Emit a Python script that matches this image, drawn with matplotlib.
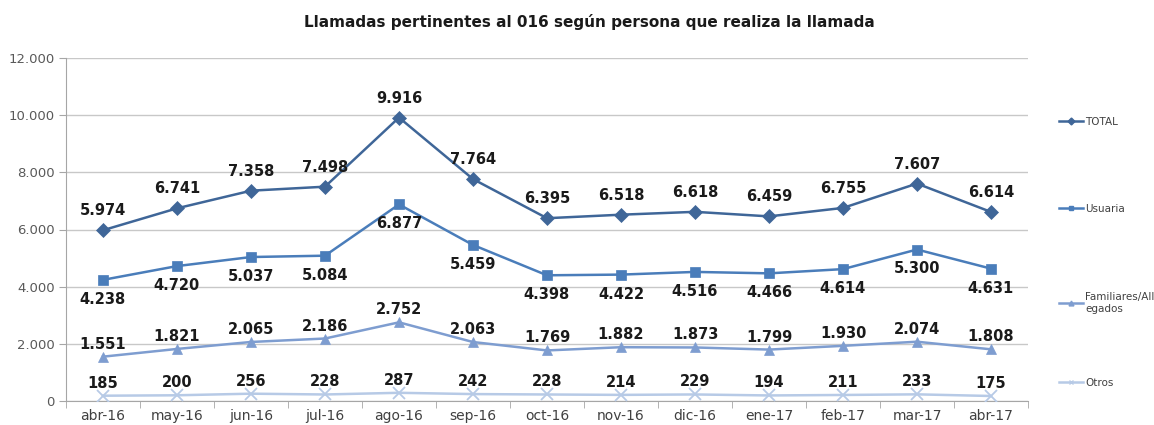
import numpy as np
import matplotlib
matplotlib.use("Agg")
import matplotlib.pyplot as plt
from matplotlib.ticker import FuncFormatter, FixedLocator

# Datos
meses = ["abr-16", "may-16", "jun-16", "jul-16", "ago-16", "sep-16", "oct-16",
         "nov-16", "dic-16", "ene-17", "feb-17", "mar-17", "abr-17"]
total = [5974, 6741, 7358, 7498, 9916, 7764, 6395, 6518, 6618, 6459, 6755, 7607, 6614]
usuaria = [4238, 4720, 5037, 5084, 6877, 5459, 4398, 4422, 4516, 4466, 4614, 5300, 4631]
familiares = [1551, 1821, 2065, 2186, 2752, 2063, 1769, 1882, 1873, 1799, 1930, 2074, 1808]
otros = [185, 200, 256, 228, 287, 242, 228, 214, 229, 194, 211, 233, 175]

def miles(v, pos=None):
    return f"{int(v):,}".replace(",", ".")

fig = plt.figure(figsize=(11.54, 4.25), dpi=100)
ax = fig.add_axes([66/1154, 1-401/425, (1028-66)/1154, (401-58)/425])

x = np.arange(len(meses))

# (nombre, datos, color, marcador, tamano, desplazamiento etiqueta en pt)
series = [
    ("TOTAL", total, "#3F6698", "D", 7, 14),
    ("Usuaria", usuaria, "#4A7DBA", "s", 7.5, -14),
    ("Familiares/All\negados", familiares, "#7E9DD0", "^", 7.5, 9),
    ("Otros", otros, "#B7CAE6", "x", 8, 9),
]

handles = []
for nombre, datos, color, mk, ms, dy in series:
    h, = ax.plot(x, datos, color=color, lw=1.8, marker=mk, markersize=ms,
                 markeredgewidth=1.3 if mk == "x" else 0.5, zorder=3)
    handles.append(h)
    for xi, v in zip(x, datos):
        ax.annotate(miles(v), (xi, v), xytext=(0, dy), textcoords="offset points",
                    ha="center", va="center", fontsize=10.5, fontweight="bold",
                    color="#1a1a1a")

ax.set_xlim(-0.5, len(meses) - 0.5)
ax.set_ylim(0, 12000)
ax.set_yticks(np.arange(0, 12001, 2000))
ax.yaxis.set_major_formatter(FuncFormatter(miles))
ax.set_xticks(x)
ax.set_xticklabels(meses)
ax.xaxis.set_minor_locator(FixedLocator(np.arange(-0.5, len(meses), 1)))
ax.tick_params(axis="x", which="major", length=0, pad=6, labelsize=10, colors="#404040")
ax.tick_params(axis="x", which="minor", length=5, color="#A6A6A6")
ax.tick_params(axis="y", length=5, color="#A6A6A6", labelsize=9.5, labelcolor="#595959", pad=3)

ax.grid(axis="y", color="#C8C8C8", lw=1)
ax.set_axisbelow(True)
for s in ["top", "right"]:
    ax.spines[s].set_visible(False)
for s in ["left", "bottom"]:
    ax.spines[s].set_color("#A6A6A6")

fig.text(0.511, 1-22/425, "Llamadas pertinentes al 016 según persona que realiza la llamada",
         ha="center", va="center", fontsize=11, fontweight="bold", color="#1a1a1a")

# leyenda: una entrada por cada serie, repartidas en vertical
ley_y = [122, 209, 303, 383]
for h, (nombre, *_), yy in zip(handles, series, ley_y):
    h2, = ax.plot([], [], color=h.get_color(), lw=1.8, marker=h.get_marker(),
                  markersize=3.5)
    fig.legend([h2], [nombre], loc="center left",
               bbox_to_anchor=(1050/1154, 1-yy/425), frameon=False,
               fontsize=7.5, handlelength=2.3, handletextpad=0.2,
               labelcolor="#404040")

fig.savefig("out.png", dpi=100)
